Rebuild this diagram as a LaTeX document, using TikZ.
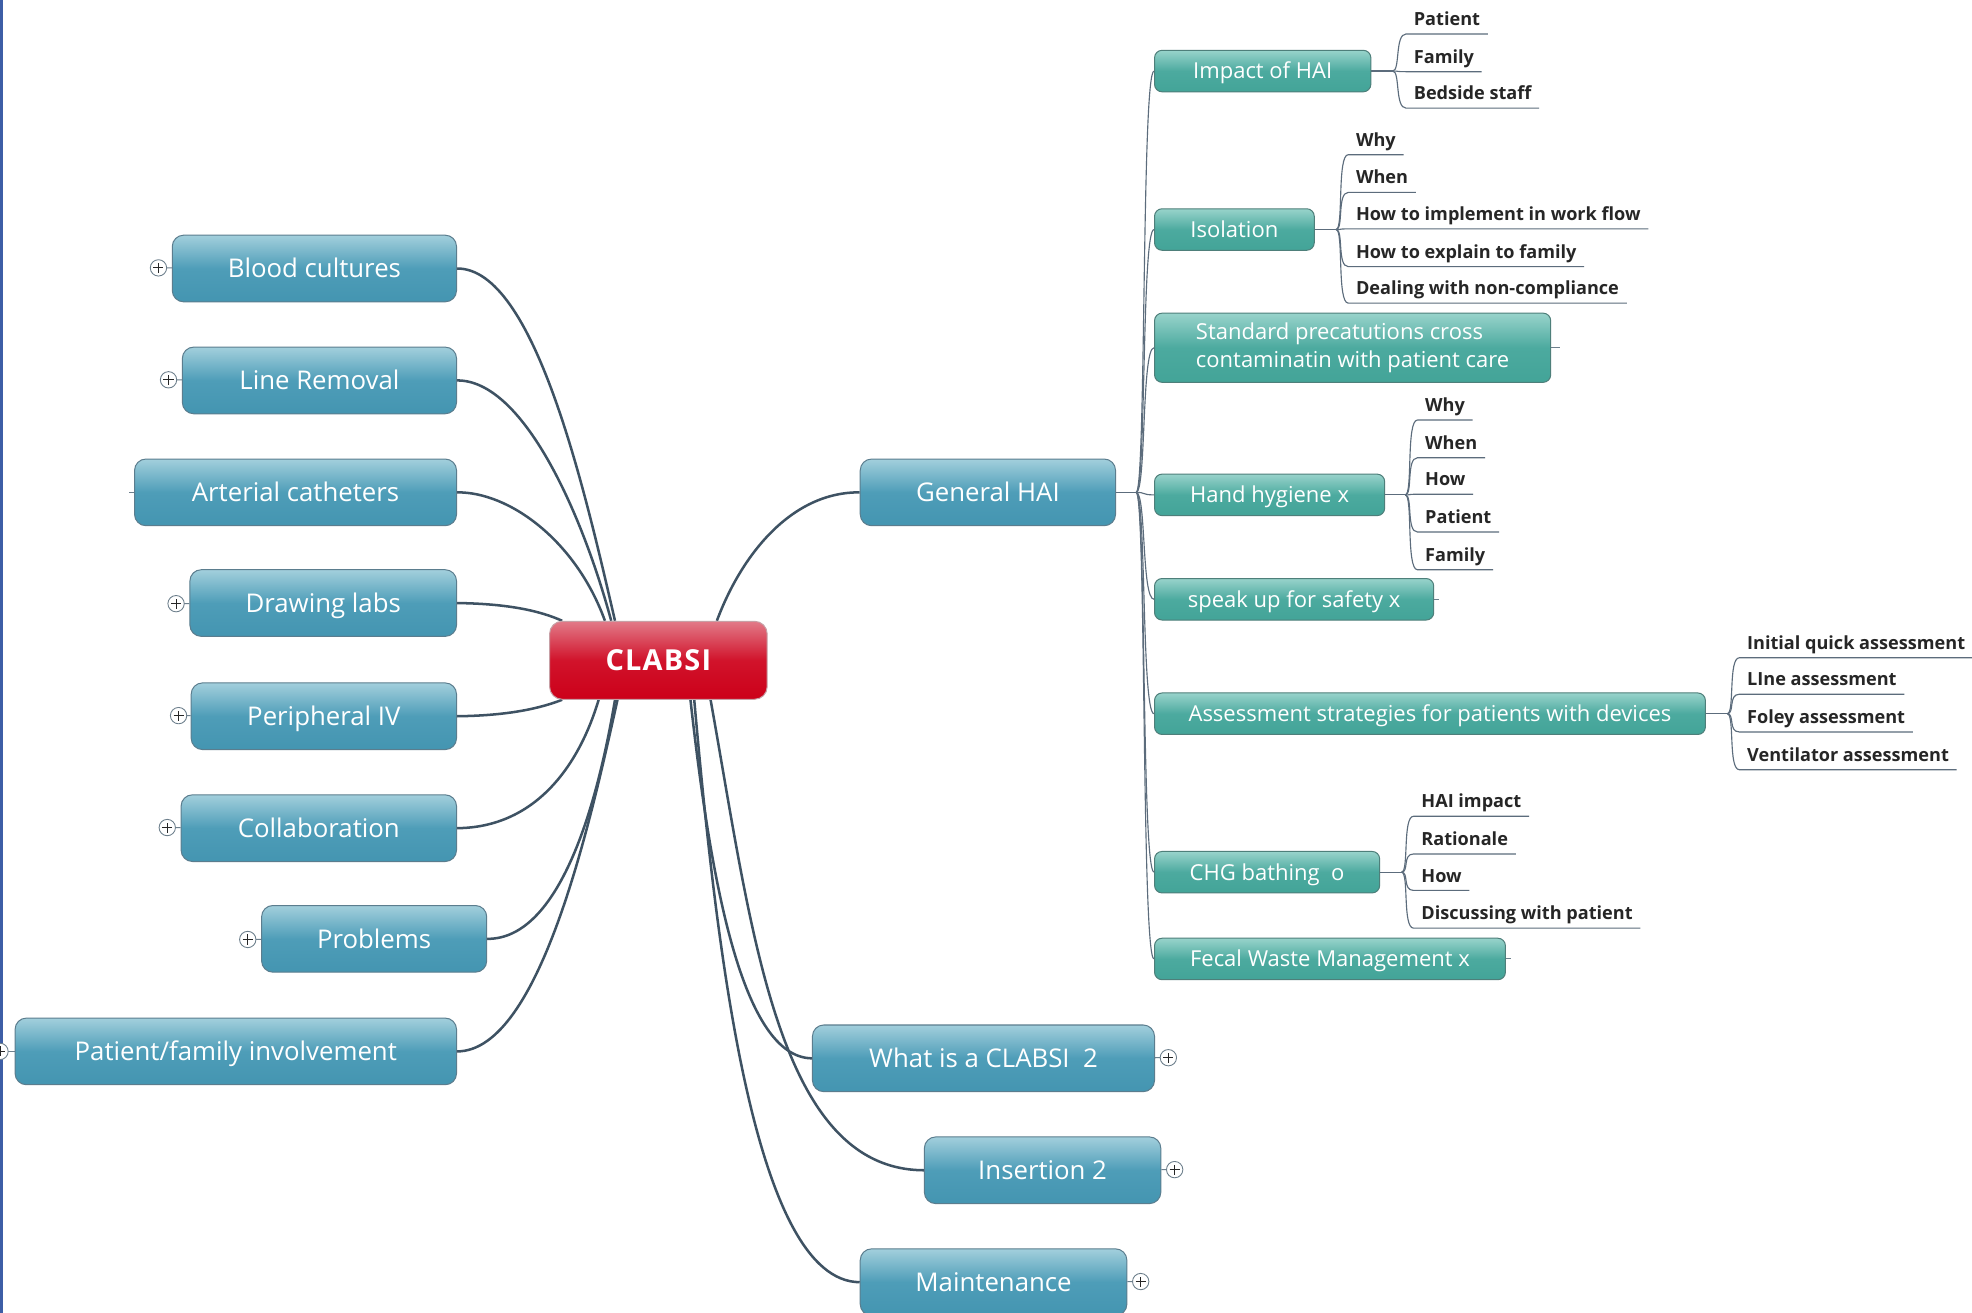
\documentclass[tikz,border=0pt]{standalone}
\usepackage{fontspec}
\setmainfont{Open Sans}
\newfontfamily\rootfont[LetterSpace=4]{Open Sans}
\usetikzlibrary{calc}
\definecolor{blueT}{HTML}{A2CFDC}
\definecolor{blueM}{HTML}{4E9DB8}
\definecolor{blueB}{HTML}{4495B1}
\definecolor{bluebd}{HTML}{5B7D8E}
\definecolor{redT}{HTML}{E27A88}
\definecolor{redM}{HTML}{D1132B}
\definecolor{redB}{HTML}{CC0019}
\definecolor{redbd}{HTML}{C7A0A6}
\definecolor{tealT}{HTML}{98D3CB}
\definecolor{tealM}{HTML}{4CAA9F}
\definecolor{tealB}{HTML}{43A498}
\definecolor{tealbd}{HTML}{4E7F7A}
\definecolor{conn}{HTML}{3E5263}
\definecolor{subconn}{HTML}{5C6C7C}
\definecolor{subtext}{HTML}{262626}
\definecolor{leftbar}{HTML}{3D5EA6}
\definecolor{plusbd}{HTML}{6D7F8C}
\pgfdeclarelayer{bg}
\pgfsetlayers{bg,main}
\begin{document}
\begin{tikzpicture}[x=1pt,y=1pt,
  box/.style={inner sep=0pt, line width=0.8pt, align=center},
  bluen/.style={box, rounded corners=9pt, draw=bluebd, top color=blueT, bottom color=blueB, middle color=blueM, text=white, font=\fontsize{20.5}{24}\selectfont, text height=14.6pt, text depth=0pt, minimum height=53pt},
  tealn/.style={box, rounded corners=6pt, draw=tealbd, top color=tealT, bottom color=tealB, middle color=tealM, text=white, font=\fontsize{17.5}{23}\selectfont, text height=12.5pt, text depth=0pt, minimum height=33pt},
  rootn/.style={box, rounded corners=10pt, draw=redbd, top color=redT, bottom color=redB, middle color=redM, text=white, font=\rootfont\bfseries\fontsize{23}{28}\selectfont, text height=16.4pt, text depth=0pt, minimum width=173pt, minimum height=62pt},
  subn/.style={anchor=south west, inner xsep=6pt, inner ysep=3pt, text height=10.5pt, text depth=3.5pt, text=subtext, font=\bfseries\fontsize{14.4}{17}\selectfont},
  subline/.style={draw=subconn, line width=0.9pt},
  mainline/.style={draw=conn, line width=2pt},
  stub/.style={draw=plusbd, line width=0.8pt},
  plusn/.style={circle, draw=plusbd, fill=white, line width=0.7pt, minimum size=13pt, inner sep=0pt,
    path picture={\draw[line width=0.8pt, black!85]
      ([xshift=-4pt]path picture bounding box.center) -- ([xshift=4pt]path picture bounding box.center)
      ([yshift=-4pt]path picture bounding box.center) -- ([yshift=4pt]path picture bounding box.center);}}
]
\useasboundingbox (0,0) rectangle (1568,-1044);

% root
\node[rootn] (c) at (523.5,-525) {CLABSI};

% left nodes
\node[bluen, minimum width=226pt] (bc) at (250,-213.5) {Blood cultures};
\node[bluen, minimum width=218pt] (lr) at (254,-302.5) {Line Removal};
\node[bluen, minimum width=256pt] (ac) at (235,-391.5) {Arterial catheters};
\node[bluen, minimum width=212pt] (dl) at (257,-479.5) {Drawing labs};
\node[bluen, minimum width=211pt] (piv) at (257.5,-569.5) {Peripheral IV};
\node[bluen, minimum width=219pt] (col) at (253.5,-658.5) {Collaboration};
\node[bluen, minimum width=179pt] (prob) at (297.5,-746.5) {Problems};
\node[bluen, minimum width=351pt] (pfi) at (187.5,-836) {Patient/family involvement};

% right blue nodes
\node[bluen, minimum width=203pt] (gh) at (785.5,-391.5) {General HAI};
\node[bluen, minimum width=272pt] (wic) at (782,-841.5) {What is a CLABSI\ \ 2};
\node[bluen, minimum width=188pt] (ins) at (829,-930.5) {Insertion 2};
\node[bluen, minimum width=212pt] (mnt) at (790,-1019.5) {Maintenance};

% plus markers
\node[plusn] (bcp) at (126,-213) {};
\node[plusn] (lrp) at (134,-302) {};
\node[plusn] (dlp) at (140,-480) {};
\node[plusn] (pivp) at (142,-569) {};
\node[plusn] (colp) at (133,-658) {};
\node[plusn] (probp) at (197,-747) {};
\node[plusn] (pfip) at (0,-836) {};
\node[plusn] (wicp) at (929,-841) {};
\node[plusn] (insp) at (934,-930) {};
\node[plusn] (mntp) at (907,-1019) {};

% teal nodes
\node[tealn, minimum width=172pt] (imp) at (1004,-56.5) {Impact of HAI};
\node[tealn, minimum width=127pt] (iso) at (981.5,-182.5) {Isolation};
\node[tealn, minimum width=315pt, minimum height=55pt, align=left, text height=, text depth=] (std) at (1075.5,-276.5) {Standard precatutions cross\\contaminatin with patient care};
\node[tealn, minimum width=183pt] (hh) at (1009.5,-393.5) {Hand hygiene x};
\node[tealn, minimum width=222pt] (spk) at (1029,-476.5) {speak up for safety x};
\node[tealn, minimum width=438pt] (ass) at (1137,-567.5) {Assessment strategies for patients with devices};
\node[tealn, minimum width=179pt] (chg) at (1007.5,-693.5) {CHG bathing\ \ o};
\node[tealn, minimum width=279pt] (fec) at (1057.5,-762.5) {Fecal Waste Management x};

% sub items
\node[subn] (i1) at (1118,-27) {Patient};
\node[subn] (i2) at (1118,-57) {Family};
\node[subn] (i3) at (1118,-86) {Bedside staff};

\node[subn] (s1) at (1072,-123) {Why};
\node[subn] (s2) at (1072,-153) {When};
\node[subn] (s3) at (1072,-182) {How to implement in work flow};
\node[subn] (s4) at (1072,-212) {How to explain to family};
\node[subn] (s5) at (1072,-241) {Dealing with non-compliance};

\node[subn] (h1) at (1127,-334) {Why};
\node[subn] (h2) at (1127,-364) {When};
\node[subn] (h3) at (1127,-393) {How};
\node[subn] (h4) at (1127,-423) {Patient};
\node[subn] (h5) at (1127,-453) {Family};

\node[subn] (a1) at (1383,-523) {Initial quick assessment};
\node[subn] (a2) at (1383,-552) {LIne assessment};
\node[subn] (a3) at (1383,-582) {Foley assessment};
\node[subn] (a4) at (1383,-612) {Ventilator assessment};

\node[subn] (g1) at (1124,-649) {HAI impact};
\node[subn] (g2) at (1124,-679) {Rationale};
\node[subn] (g3) at (1124,-708) {How};
\node[subn] (g4) at (1124,-738) {Discussing with patient};

% anchor points on root
\coordinate (cT1) at ([xshift=-34.5pt]c.north);
\coordinate (cT2) at ([xshift=-37.5pt]c.north);
\coordinate (cT3) at ([xshift=-42.5pt]c.north);
\coordinate (cT4) at ([xshift=-76.5pt]c.north);
\coordinate (cT5) at ([xshift=46.5pt]c.north);
\coordinate (cB1) at ([xshift=-76.5pt]c.south);
\coordinate (cB2) at ([xshift=-47.5pt]c.south);
\coordinate (cB3) at ([xshift=-34.5pt]c.south);
\coordinate (cB4) at ([xshift=-32.5pt]c.south);
\coordinate (cB5) at ([xshift=25.5pt]c.south);
\coordinate (cB6) at ([xshift=41.5pt]c.south);
\coordinate (cB7) at ([xshift=28.5pt]c.south);

\begin{pgfonlayer}{bg}
\fill[white] (0,0) rectangle (1568,-1044);
\draw[leftbar, line width=2pt] (1,0) -- (1,-1044);
% main connectors
\draw[mainline] (bc.east) .. controls (425,-213) and (465,-390) .. (cT1);
\draw[mainline] (lr.east) .. controls (415,-302) and (462,-405) .. (cT2);
\draw[mainline] (ac.east) .. controls (405,-391) and (458,-430) .. (cT3);
\draw[mainline] (dl.east) .. controls (405,-480) and (430,-486) .. (cT4);
\draw[mainline] (piv.east) .. controls (405,-569) and (430,-563) .. (cB1);
\draw[mainline] (col.east) .. controls (425,-658) and (460,-610) .. (cB2);
\draw[mainline] (prob.east) .. controls (445,-747) and (475,-640) .. (cB3);
\draw[mainline] (pfi.east) .. controls (430,-836) and (470,-650) .. (cB4);
\draw[mainline] (cT5) .. controls (590,-440) and (630,-391) .. (gh.west);
\draw[mainline] (cB5) .. controls (565,-700) and (590,-841) .. (wic.west);
\draw[mainline] (cB6) .. controls (598,-740) and (618,-930) .. (ins.west);
\draw[mainline] (cB7) .. controls (570,-760) and (600,-1019) .. (mnt.west);

% plus stubs
\foreach \a/\b in {bcp/bc, lrp/lr, dlp/dl, pivp/piv, colp/col, probp/prob, pfip/pfi, wicp/wic, insp/ins, mntp/mnt}
  \draw[stub] (\a.center) -- (\b);
\draw[stub] (ac.west) -- ++(-4,0);
\draw[stub] (std.east) -- ++(7,0);
\draw[stub] (spk.east) -- ++(4,0);
\draw[stub] (fec.east) -- ++(4,0);

% General HAI trunk
\draw[subline] (gh.east) -- ++(16,0) coordinate (ghb);
\foreach \t in {imp, iso, std, hh, spk, ass, chg, fec}
  \draw[subline] (ghb) .. controls +(8,0) and +(-10,0) .. (\t.west);

% sub branches
\draw[subline] (imp.east) -- ++(17,0) coordinate (impb);
\foreach \s in {i1,i2,i3}
  \draw[subline] (impb) .. controls +(6,0) and +(-9,0) .. (\s.south west) -- (\s.south east);
\draw[subline] (iso.east) -- ++(17,0) coordinate (isob);
\foreach \s in {s1,s2,s3,s4,s5}
  \draw[subline] (isob) .. controls +(6,0) and +(-9,0) .. (\s.south west) -- (\s.south east);
\draw[subline] (hh.east) -- ++(16,0) coordinate (hhb);
\foreach \s in {h1,h2,h3,h4,h5}
  \draw[subline] (hhb) .. controls +(6,0) and +(-9,0) .. (\s.south west) -- (\s.south east);
\draw[subline] (ass.east) -- ++(17,0) coordinate (assb);
\foreach \s in {a1,a2,a3,a4}
  \draw[subline] (assb) .. controls +(6,0) and +(-9,0) .. (\s.south west) -- (\s.south east);
\draw[subline] (chg.east) -- ++(17,0) coordinate (chgb);
\foreach \s in {g1,g2,g3,g4}
  \draw[subline] (chgb) .. controls +(6,0) and +(-9,0) .. (\s.south west) -- (\s.south east);
\end{pgfonlayer}
\end{tikzpicture}
\end{document}
